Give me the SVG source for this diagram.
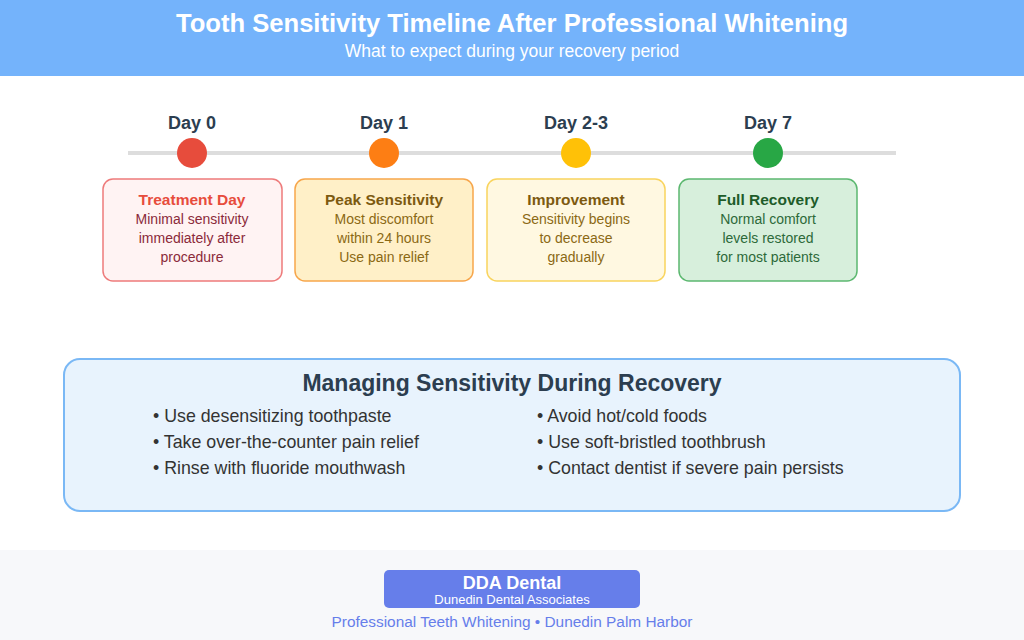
<svg xmlns="http://www.w3.org/2000/svg" width="1024" height="640" viewBox="0 0 1024 640">
<style>
text{font-family:"Liberation Sans",Arial,sans-serif;text-anchor:middle}
.day{font-size:18px;font-weight:bold;fill:#2c3e50}
.bt{font-size:15.5px;font-weight:bold}
.bd{font-size:14px}
.tip{font-size:17.8px;fill:#333;text-anchor:start}
</style>
<rect width="1024" height="640" fill="#fff"/>
<rect width="1024" height="76" fill="#74b3fb"/>
<text x="512" y="32" font-size="25.6" font-weight="bold" fill="#fff">Tooth Sensitivity Timeline After Professional Whitening</text>
<text x="512" y="57" font-size="17.5" fill="#fff">What to expect during your recovery period</text>
<g id="connectors"><line x1="128" y1="153" x2="896" y2="153" stroke="#dddddd" stroke-width="4"/></g>
<g id="day0"><text class="day" x="192" y="129">Day 0</text><circle cx="192" cy="153" r="15" fill="#e74c3c"/>
<rect x="103" y="179" width="179" height="102" rx="10" fill="#fff3f3" stroke="#ee7b7b" stroke-width="1.5"/>
<text class="bt" x="192" y="205" fill="#e74c3c">Treatment Day</text>
<text class="bd" fill="#8b2a3a"><tspan x="192" y="224">Minimal sensitivity</tspan><tspan x="192" y="243">immediately after</tspan><tspan x="192" y="262">procedure</tspan></text></g>
<g id="day1"><text class="day" x="384" y="129">Day 1</text><circle cx="384" cy="153" r="15" fill="#fd7e14"/>
<rect x="295" y="179" width="178" height="102" rx="10" fill="#fff0c8" stroke="#f7a64b" stroke-width="1.5"/>
<text class="bt" x="384" y="205" fill="#7d5a10">Peak Sensitivity</text>
<text class="bd" fill="#8b6914"><tspan x="384" y="224">Most discomfort</tspan><tspan x="384" y="243">within 24 hours</tspan><tspan x="384" y="262">Use pain relief</tspan></text></g>
<g id="day23"><text class="day" x="576" y="129">Day 2-3</text><circle cx="576" cy="153" r="15" fill="#ffc107"/>
<rect x="487" y="179" width="178" height="102" rx="10" fill="#fff8e1" stroke="#f9d45e" stroke-width="1.5"/>
<text class="bt" x="576" y="205" fill="#7d5a10">Improvement</text>
<text class="bd" fill="#8b6914"><tspan x="576" y="224">Sensitivity begins</tspan><tspan x="576" y="243">to decrease</tspan><tspan x="576" y="262">gradually</tspan></text></g>
<g id="day7"><text class="day" x="768" y="129">Day 7</text><circle cx="768" cy="153" r="15" fill="#28a745"/>
<rect x="679" y="179" width="178" height="102" rx="10" fill="#d7efdc" stroke="#5cb870" stroke-width="1.5"/>
<text class="bt" x="768" y="205" fill="#1e5c2a">Full Recovery</text>
<text class="bd" fill="#2d6a3a"><tspan x="768" y="224">Normal comfort</tspan><tspan x="768" y="243">levels restored</tspan><tspan x="768" y="262">for most patients</tspan></text></g>
<g id="tips">
<rect x="64" y="359" width="896" height="152" rx="16" fill="#e8f3fd" stroke="#7ab8f5" stroke-width="2"/>
<text x="512" y="391" font-size="23" font-weight="bold" fill="#2c3e50">Managing Sensitivity During Recovery</text>
<text class="tip" x="153" y="422">• Use desensitizing toothpaste</text>
<text class="tip" x="153" y="448">• Take over-the-counter pain relief</text>
<text class="tip" x="153" y="474">• Rinse with fluoride mouthwash</text>
<text class="tip" x="537" y="422">• Avoid hot/cold foods</text>
<text class="tip" x="537" y="448">• Use soft-bristled toothbrush</text>
<text class="tip" x="537" y="474">• Contact dentist if severe pain persists</text>
</g>
<g id="footer">
<rect y="550" width="1024" height="90" fill="#f7f8fa"/>
<rect x="384" y="570" width="256" height="38" rx="5" fill="#667eea"/>
<text x="512" y="589" font-size="18" font-weight="bold" fill="#fff">DDA Dental</text>
<text x="512" y="604" font-size="13" fill="#fff">Dunedin Dental Associates</text>
<text x="512" y="627" font-size="15.4" fill="#667eea">Professional Teeth Whitening • Dunedin Palm Harbor</text>
</g>
</svg>
